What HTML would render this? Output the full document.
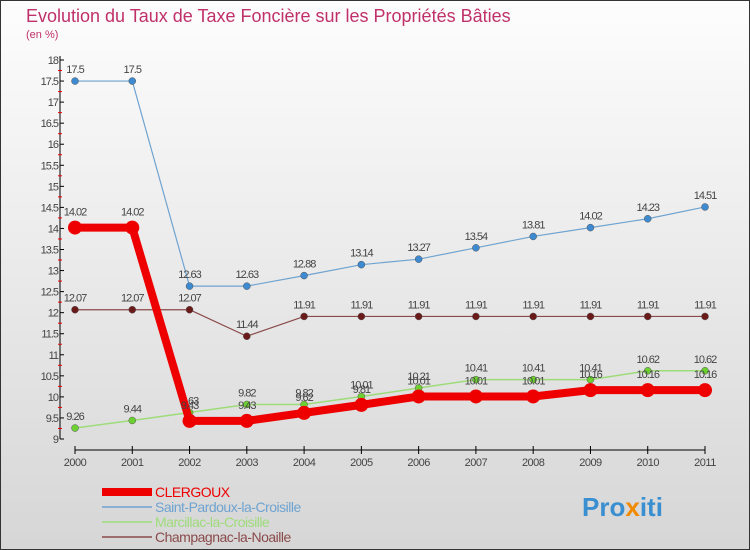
<!DOCTYPE html>
<html><head><meta charset="utf-8"><style>
body{margin:0;width:750px;height:550px;overflow:hidden;font-family:"Liberation Sans",sans-serif}
svg{display:block}
</style></head><body>
<svg id="c" width="750" height="550">
<defs><linearGradient id="bg" x1="0" y1="0" x2="0" y2="1"><stop offset="0" stop-color="#fdfdfd"/><stop offset="1" stop-color="#d6d6d6"/></linearGradient></defs>
<rect x="0.5" y="0.5" width="749" height="549" fill="url(#bg)" stroke="#333"/>
<text x="26" y="22" font-size="18" fill="#c0306a">Evolution du Taux de Taxe Foncière sur les Propriétés Bâties</text>
<text x="26" y="38" font-size="11" fill="#c0306a">(en %)</text>
<g id="axes"></g><g id="series"></g><g id="legend"></g>
<text x="582" y="516" font-size="26" font-weight="bold" fill="#3a8fd0">Pro<tspan fill="#f08a00">x</tspan>iti</text>
</svg>
<script>
const years=["2000","2001","2002","2003","2004","2005","2006","2007","2008","2009","2010","2011"];
const clergoux=[14.02,14.02,9.43,9.43,9.62,9.81,10.01,10.01,10.01,10.16,10.16,10.16];
const saintPardoux=[17.5,17.5,12.63,12.63,12.88,13.14,13.27,13.54,13.81,14.02,14.23,14.51];
const marcillac=[9.26,9.44,9.63,9.82,9.82,10.01,10.21,10.41,10.41,10.41,10.62,10.62];
const champagnac=[12.07,12.07,12.07,11.44,11.91,11.91,11.91,11.91,11.91,11.91,11.91,11.91];
const yTicks=[9,9.5,10,10.5,11,11.5,12,12.5,13,13.5,14,14.5,15,15.5,16,16.5,17,17.5,18];
const NS="http://www.w3.org/2000/svg";
const X=i=>75+i*(630/11);
const Y=v=>439-(v-9)*(379/9);
function mk(t,a,p){const e=document.createElementNS(NS,t);for(const k in a)e.setAttribute(k,a[k]);p.appendChild(e);return e;}
const ax=document.getElementById('axes');
let l=mk('line',{x1:60,y1:56,x2:60,y2:439,stroke:'#000'},ax);


l=mk('line',{x1:75,y1:450,x2:705,y2:450,stroke:'#000'},ax);


yTicks.forEach((v,i)=>{
 const t=mk('text',{x:58,y:Y(v)+4,'font-size':11,'text-anchor':'end',fill:'#444','letter-spacing':'-1'},ax);t.textContent=String(v);
 
 
 mk('line',{x1:60,y1:Y(v),x2:64,y2:Y(v),stroke:'#000'},ax);
 if(i<yTicks.length-1)mk('line',{x1:58,y1:Y(v+0.25),x2:62,y2:Y(v+0.25),stroke:'#e00'},ax);
});
years.forEach((y,i)=>{
 mk('line',{x1:X(i),y1:446,x2:X(i),y2:454,stroke:'#000'},ax);
 const t=mk('text',{x:X(i),y:466,'font-size':11,'text-anchor':'middle',fill:'#444','letter-spacing':'-0.5'},ax);t.textContent=y;
 
 
});
const sg=document.getElementById('series');
function draw(vals,col,w,r,dot,name){
 const g=mk('g',{},sg);
 
 
 mk('polyline',{points:vals.map((v,i)=>X(i)+','+Y(v)).join(' '),fill:'none',stroke:col,'stroke-width':w,'stroke-linejoin':'round'},g);
 vals.forEach((v,i)=>{
  const c=mk('circle',{cx:X(i),cy:Y(v),r:r,fill:dot,stroke:w>3?dot:'#555','stroke-width':w>3?0:0.5},g);
  
  
  const t=mk('text',{x:X(i),y:Y(v)-(w>3?12:8),'font-size':11,'text-anchor':'middle',fill:'#444','letter-spacing':'-1'},g);t.textContent=String(v);
  
  
 });
}
draw(saintPardoux,'#6fa3d0',1.2,3.5,'#3d8ad0','series-saint-pardoux');
draw(champagnac,'#8a4a4a',1.2,3.5,'#6b1a1a','series-champagnac');
draw(marcillac,'#9edc7a',1.5,3.5,'#6cd030','series-marcillac');
draw(clergoux,'#ee0000',8,7,'#ee0000','series-clergoux');
const lg=document.getElementById('legend');
const names=["CLERGOUX","Saint-Pardoux-la-Croisille","Marcillac-la-Croisille","Champagnac-la-Noaille"];
const cols=["#ee0000","#6fa3d0","#9edc7a","#8a4a4a"];
const ws=[8,1.5,1.5,1.5];
names.forEach((n,i)=>{
 const y=492+i*15;
 const g=mk('g',{},lg);
 
 
 mk('line',{x1:102,y1:y,x2:152,y2:y,stroke:cols[i],'stroke-width':ws[i]},g);
 const t=mk('text',{x:155,y:y+5,'font-size':14,fill:cols[i],'letter-spacing':'-0.5'},g);t.textContent=n;
});
</script>
</body></html>
